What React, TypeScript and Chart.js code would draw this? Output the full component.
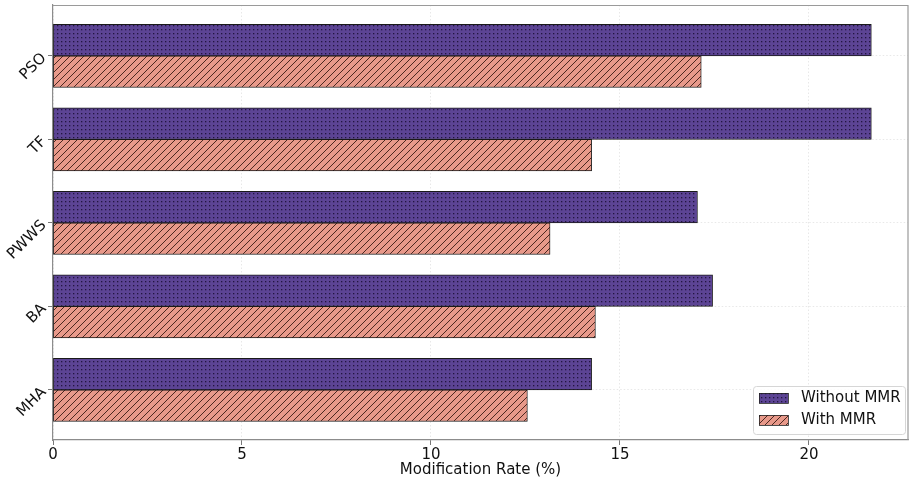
import React, { useEffect, useRef } from "react";
import { Chart, registerables } from "chart.js";

Chart.register(...registerables);

const categories = ["PSO", "TF", "PWWS", "BA", "MHA"];
const withoutMMR = [21.65, 21.65, 17.05, 17.45, 14.25];
const withMMR = [17.15, 14.25, 13.15, 14.35, 12.55];
const xTicks = [0, 5, 10, 15, 20];
const seriesNames = ["Without MMR", "With MMR"];

const PURPLE = "#5c4494";
const SALMON = "#e8998a";
const FONT = "'DejaVu Sans', sans-serif";

function makeDots(): CanvasPattern | string {
  const c = document.createElement("canvas");
  c.width = 4;
  c.height = 4;
  const g = c.getContext("2d");
  if (!g) return PURPLE;
  g.fillStyle = PURPLE;
  g.fillRect(0, 0, 4, 4);
  g.fillStyle = "#221540";
  g.fillRect(1, 1, 1.3, 1.3);
  return g.createPattern(c, "repeat") || PURPLE;
}

function makeHatch(): CanvasPattern | string {
  const s = 7;
  const c = document.createElement("canvas");
  c.width = s;
  c.height = s;
  const g = c.getContext("2d");
  if (!g) return SALMON;
  g.fillStyle = SALMON;
  g.fillRect(0, 0, s, s);
  g.strokeStyle = "#3a1a14";
  g.lineWidth = 0.9;
  g.beginPath();
  g.moveTo(-1, s + 1);
  g.lineTo(s + 1, -1);
  g.moveTo(-1, 1);
  g.lineTo(1, -1);
  g.moveTo(s - 1, s + 1);
  g.lineTo(s + 1, s - 1);
  g.stroke();
  return g.createPattern(c, "repeat") || SALMON;
}

export default function App() {
  const ref = useRef<HTMLCanvasElement | null>(null);

  useEffect(() => {
    document.body.style.margin = "0";
    const canvas = ref.current;
    if (!canvas) return;
    const dots = makeDots();
    const hatch = makeHatch();
    const fills = [dots, hatch];

    const framePlugin = {
      id: "frameLegend",
      afterDraw(chart: any) {
        const ctx = chart.ctx;
        const a = chart.chartArea;
        ctx.save();
        ctx.strokeStyle = "#9a9a9a";
        ctx.lineWidth = 1.2;
        ctx.beginPath();
        ctx.moveTo(a.left, a.top + 0.5);
        ctx.lineTo(a.right, a.top + 0.5);
        ctx.lineTo(a.right, a.bottom);
        ctx.stroke();

        // legend
        const lx = 753, ly = 386, lw = 152, lh = 48;
        ctx.fillStyle = "rgba(255,255,255,0.85)";
        ctx.strokeStyle = "#d6d6d6";
        ctx.lineWidth = 1;
        ctx.beginPath();
        (ctx as any).roundRect(lx + 0.5, ly + 0.5, lw, lh, 3);
        ctx.fill();
        ctx.stroke();
        ctx.font = "15px " + FONT;
        ctx.textBaseline = "middle";
        ctx.textAlign = "left";
        for (let i = 0; i < 2; i++) {
          const py = ly + 7 + i * 22;
          ctx.fillStyle = fills[i];
          ctx.fillRect(759, py, 29, 10);
          ctx.strokeStyle = "#222";
          ctx.lineWidth = 0.8;
          ctx.strokeRect(759.5, py + 0.5, 29, 10);
          ctx.fillStyle = "#111";
          ctx.fillText(seriesNames[i], 801, py + 5.5);
        }
        ctx.restore();
      },
    };

    const chart = new Chart(canvas, {
      type: "bar",
      data: {
        datasets: [
          {
            label: seriesNames[0],
            data: withoutMMR.map((v, i) => ({ x: v, y: i })),
            backgroundColor: dots as any,
            borderColor: "#1a1a1a",
            borderWidth: 0.9,
            borderSkipped: false,
            barThickness: 31.5,
          },
          {
            label: seriesNames[1],
            data: withMMR.map((v, i) => ({ x: v, y: i })),
            backgroundColor: hatch as any,
            borderColor: "#1a1a1a",
            borderWidth: 0.9,
            borderSkipped: false,
            barThickness: 31.5,
          },
        ],
      },
      options: {
        indexAxis: "y",
        animation: false,
        responsive: false,
        maintainAspectRatio: false,
        layout: { padding: { top: 5, right: 2, left: 0, bottom: 0 } },
        plugins: {
          legend: { display: false },
          tooltip: { enabled: false },
        },
        scales: {
          x: {
            type: "linear",
            min: 0,
            max: 22.62,
            offset: false,
            afterBuildTicks: (s: any) => {
              s.ticks = xTicks.map((v) => ({ value: v }));
            },
            afterFit: (s: any) => {
              s.height = 39;
              s.paddingLeft = 0;
              s.paddingRight = 0;
            },
            ticks: {
              font: { family: FONT, size: 15 },
              color: "#111",
              padding: 1,
            },
            grid: {
              color: "#e2e2e2",
              lineWidth: 0.8,
              tickColor: "#555",
              tickLength: 5,
              offset: false,
            },
            border: { color: "#8c8c8c", width: 1.2, dash: [1.5, 2] },
            title: {
              display: true,
              text: "Modification Rate (%)",
              font: { family: FONT, size: 15 },
              color: "#111",
              padding: { top: 0, bottom: 0 },
            },
          },
          y: {
            type: "linear",
            reverse: true,
            min: -0.61,
            max: 4.6,
            offset: false,
            afterBuildTicks: (s: any) => {
              s.ticks = categories.map((_, i) => ({ value: i }));
            },
            afterFit: (s: any) => {
              s.width = 53;
              s.paddingTop = 0;
              s.paddingBottom = 0;
            },
            ticks: {
              font: { family: FONT, size: 15 },
              color: "#111",
              minRotation: 45,
              maxRotation: 45,
              padding: 4,
              callback: (v: any) => categories[v as number] ?? "",
            },
            grid: {
              color: "#e2e2e2",
              lineWidth: 0.8,
              tickColor: "#555",
              tickLength: 5,
              offset: false,
            },
            border: { color: "#8c8c8c", width: 1.2, dash: [1.5, 2] },
          },
        },
      } as any,
      plugins: [framePlugin],
    });

    return () => chart.destroy();
  }, []);

  return (
    <div style={{ width: 910, height: 479 }}>
      <canvas ref={ref} width={910} height={479} style={{ display: "block" }} />
    </div>
  );
}
